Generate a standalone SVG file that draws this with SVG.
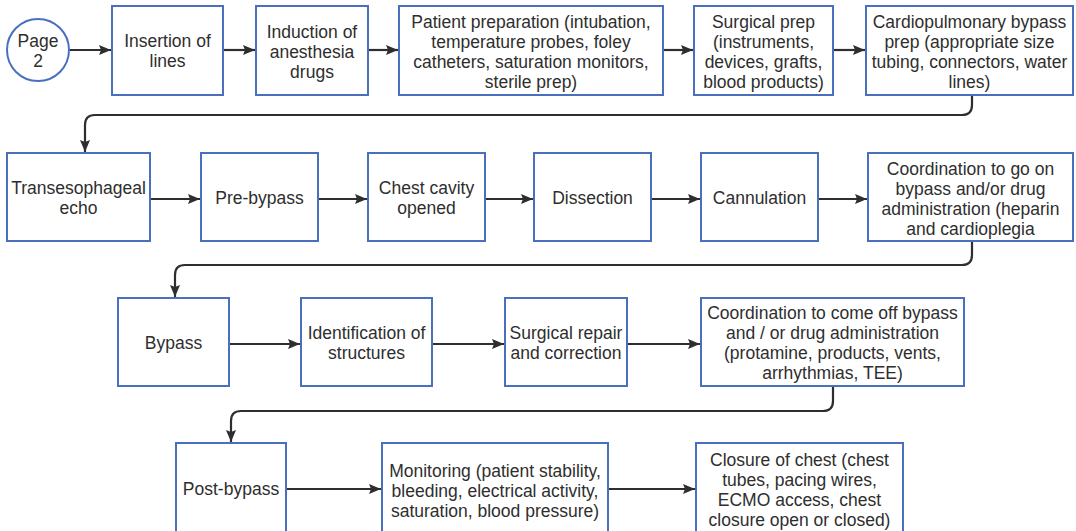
<svg xmlns="http://www.w3.org/2000/svg" width="1076" height="531" viewBox="0 0 1076 531">
<defs>
<style>
.box{fill:#fff;stroke:#4a70bd;stroke-width:2}
.t{font-family:"Liberation Sans",Arial,sans-serif;font-size:17.5px;fill:#2e2e2e;text-anchor:middle}
.c{fill:none;stroke:#2e2e2e;stroke-width:2.2;marker-end:url(#ah)}
</style>
<marker id="ah" markerUnits="userSpaceOnUse" markerWidth="13" markerHeight="11" refX="12" refY="5.5" orient="auto">
<path d="M0,0.5 L12,5.5 L0,10.5 L2,5.5 z" fill="#2e2e2e"/>
</marker>
</defs>
<rect width="1076" height="531" fill="#fff"/>
<g id="connectors">
<path class="c" d="M69,50 H111"/>
<path class="c" d="M223,50 H255"/>
<path class="c" d="M368,50 H398"/>
<path class="c" d="M663,50 H693"/>
<path class="c" d="M833,50 H865"/>
<path class="c" d="M972,95 V105 Q972,115 962,115 H95 Q85,115 85,125 V152"/>
<path class="c" d="M150,199 H200"/>
<path class="c" d="M318,199 H367"/>
<path class="c" d="M485,199 H533"/>
<path class="c" d="M651,199 H700"/>
<path class="c" d="M818,199 H867"/>
<path class="c" d="M972,241 V255 Q972,265 962,265 H185 Q175,265 175,275 V297"/>
<path class="c" d="M229,344 H300"/>
<path class="c" d="M432,344 H504"/>
<path class="c" d="M627,344 H700"/>
<path class="c" d="M833,386 V401 Q833,411 823,411 H241 Q231,411 231,421 V442"/>
<path class="c" d="M286,489 H381"/>
<path class="c" d="M608,489 H695"/>
</g>
<g id="page2">
<circle class="box" cx="38" cy="50" r="31"/>
<text class="t" x="38" y="47">Page</text>
<text class="t" x="38" y="67">2</text>
</g>
<g id="insertion">
<rect class="box" x="112" y="6" width="111" height="89"/>
<text class="t" x="167.5" y="47">Insertion of</text>
<text class="t" x="167.5" y="67">lines</text>
</g>
<g id="induction">
<rect class="box" x="256" y="6" width="112" height="89"/>
<text class="t" x="312" y="38">Induction of</text>
<text class="t" x="312" y="58">anesthesia</text>
<text class="t" x="312" y="78">drugs</text>
</g>
<g id="patient-prep">
<rect class="box" x="399" y="6" width="264" height="89"/>
<text class="t" x="531" y="28">Patient preparation (intubation,</text>
<text class="t" x="531" y="48">temperature probes, foley</text>
<text class="t" x="531" y="68">catheters, saturation monitors,</text>
<text class="t" x="531" y="88">sterile prep)</text>
</g>
<g id="surgical-prep">
<rect class="box" x="694" y="6" width="139" height="89"/>
<text class="t" x="763.5" y="28">Surgical prep</text>
<text class="t" x="763.5" y="48">(instruments,</text>
<text class="t" x="763.5" y="68">devices, grafts,</text>
<text class="t" x="763.5" y="88">blood products)</text>
</g>
<g id="cpb-prep">
<rect class="box" x="866" y="6" width="207" height="89"/>
<text class="t" x="969.5" y="28">Cardiopulmonary bypass</text>
<text class="t" x="969.5" y="48">prep (appropriate size</text>
<text class="t" x="969.5" y="68">tubing, connectors, water</text>
<text class="t" x="969.5" y="88">lines)</text>
</g>
<g id="tee">
<rect class="box" x="7" y="153" width="143" height="88"/>
<text class="t" x="78.5" y="194">Transesophageal</text>
<text class="t" x="78.5" y="214">echo</text>
</g>
<g id="pre-bypass">
<rect class="box" x="201" y="153" width="117" height="88"/>
<text class="t" x="259.5" y="204">Pre-bypass</text>
</g>
<g id="chest-opened">
<rect class="box" x="368" y="153" width="117" height="88"/>
<text class="t" x="426.5" y="194">Chest cavity</text>
<text class="t" x="426.5" y="214">opened</text>
</g>
<g id="dissection">
<rect class="box" x="534" y="153" width="117" height="88"/>
<text class="t" x="592.5" y="204">Dissection</text>
</g>
<g id="cannulation">
<rect class="box" x="701" y="153" width="117" height="88"/>
<text class="t" x="759.5" y="204">Cannulation</text>
</g>
<g id="go-on-bypass">
<rect class="box" x="868" y="153" width="205" height="88"/>
<text class="t" x="970.5" y="175">Coordination to go on</text>
<text class="t" x="970.5" y="195">bypass and/or drug</text>
<text class="t" x="970.5" y="215">administration (heparin</text>
<text class="t" x="970.5" y="235">and cardioplegia</text>
</g>
<g id="bypass">
<rect class="box" x="118" y="298" width="111" height="88"/>
<text class="t" x="173.5" y="349">Bypass</text>
</g>
<g id="identification">
<rect class="box" x="301" y="298" width="131" height="88"/>
<text class="t" x="366.5" y="339">Identification of</text>
<text class="t" x="366.5" y="359">structures</text>
</g>
<g id="surgical-repair">
<rect class="box" x="505" y="298" width="122" height="88"/>
<text class="t" x="566" y="339">Surgical repair</text>
<text class="t" x="566" y="359">and correction</text>
</g>
<g id="come-off-bypass">
<rect class="box" x="701" y="298" width="263" height="88"/>
<text class="t" x="832.5" y="319">Coordination to come off bypass</text>
<text class="t" x="832.5" y="339">and / or drug administration</text>
<text class="t" x="832.5" y="359">(protamine, products, vents,</text>
<text class="t" x="832.5" y="379">arrhythmias, TEE)</text>
</g>
<g id="post-bypass">
<rect class="box" x="176" y="443" width="110" height="92"/>
<text class="t" x="231" y="495">Post-bypass</text>
</g>
<g id="monitoring">
<rect class="box" x="382" y="443" width="226" height="92"/>
<text class="t" x="495" y="477">Monitoring (patient stability,</text>
<text class="t" x="495" y="497">bleeding, electrical activity,</text>
<text class="t" x="495" y="517">saturation, blood pressure)</text>
</g>
<g id="closure">
<rect class="box" x="696" y="443" width="207" height="92"/>
<text class="t" x="799.5" y="466">Closure of chest (chest</text>
<text class="t" x="799.5" y="486">tubes, pacing wires,</text>
<text class="t" x="799.5" y="506">ECMO access, chest</text>
<text class="t" x="799.5" y="526">closure open or closed)</text>
</g>
</svg>
